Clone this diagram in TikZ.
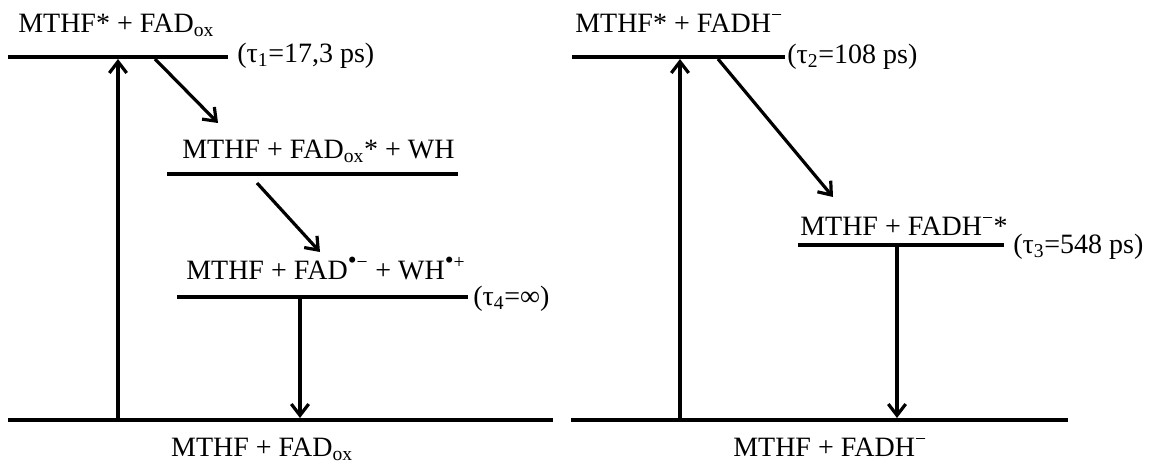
\documentclass[tikz,border=0pt]{standalone}
\usepackage{fontspec}
\setmainfont{Liberation Serif}
\usetikzlibrary{arrows.meta}
\newcommand{\radbul}{{\fontsize{19}{19}\selectfont •}}
\begin{document}
\begin{tikzpicture}[x=0.75pt,y=-0.75pt,
  level/.style={line width=3.1pt},
  arr/.style={line width=2.4pt,-{Straight Barb[length=8.5pt,width=13pt,line width=2.4pt]}},
  txt/.style={inner sep=0pt,font=\fontsize{21}{24}\selectfont},
  lbl/.style={txt,anchor=base west},
  bot/.style={txt,anchor=base}]
\useasboundingbox (0,0) rectangle (1149,465);
% ---------- left panel ----------
\coordinate (L1a) at (8,57);   \coordinate (L1b) at (228,57);
\coordinate (L2a) at (167,174); \coordinate (L2b) at (458,174);
\coordinate (L3a) at (177,297); \coordinate (L3b) at (468,297);
\coordinate (LBa) at (8,420);  \coordinate (LBb) at (553,420);
\draw[level] (L1a) -- (L1b);
\draw[level] (L2a) -- (L2b);
\draw[level] (L3a) -- (L3b);
\draw[level] (LBa) -- (LBb);
\node[lbl] (t1) at (18,32) {MTHF* + FAD\textsubscript{ox}};
\node[lbl] (tau1) at (237,62) {(τ\textsubscript{1}=17,3 ps)};
\node[lbl] (t2) at (182,158) {MTHF + FAD\textsubscript{ox}* + WH};
\node[lbl] (t3) at (186,279) {MTHF + FAD\textsuperscript{\radbul−} + WH\textsuperscript{\radbul+}};
\node[lbl] (tau4) at (473,305) {(τ\textsubscript{4}=∞)};
\node[bot] (tb1) at (262,456) {MTHF + FAD\textsubscript{ox}};
\coordinate (u1s) at (118,419); \coordinate (u1e) at (118,59);
\coordinate (d1s) at (155,59);  \coordinate (d1e) at (218,123);
\coordinate (d2s) at (257,183); \coordinate (d2e) at (320,252);
\coordinate (d3s) at (300,299); \coordinate (d3e) at (300,418);
\draw[arr] (u1s) -- (u1e);
\draw[arr] (d1s) -- (d1e);
\draw[arr] (d2s) -- (d2e);
\draw[arr] (d3s) -- (d3e);
% ---------- right panel ----------
\coordinate (R1a) at (572,57);  \coordinate (R1b) at (785,57);
\coordinate (R2a) at (798,245); \coordinate (R2b) at (1004,245);
\coordinate (RBa) at (571,420); \coordinate (RBb) at (1068,420);
\draw[level] (R1a) -- (R1b);
\draw[level] (R2a) -- (R2b);
\draw[level] (RBa) -- (RBb);
\node[lbl] (r1) at (575,32) {MTHF* + FADH\textsuperscript{−}};
\node[lbl] (tau2) at (787,63) {(τ\textsubscript{2}=108 ps)};
\node[lbl] (r2) at (800,235) {MTHF + FADH\textsuperscript{−}*};
\node[lbl] (tau3) at (1013,253) {(τ\textsubscript{3}=548 ps)};
\node[bot] (rb1) at (830,456) {MTHF + FADH\textsuperscript{−}};
\coordinate (u2s) at (680,419); \coordinate (u2e) at (680,59);
\coordinate (e1s) at (718,59);  \coordinate (e1e) at (833,197);
\coordinate (e2s) at (897,247); \coordinate (e2e) at (897,418);
\draw[arr] (u2s) -- (u2e);
\draw[arr] (e1s) -- (e1e);
\draw[arr] (e2s) -- (e2e);
\end{tikzpicture}
\end{document}
